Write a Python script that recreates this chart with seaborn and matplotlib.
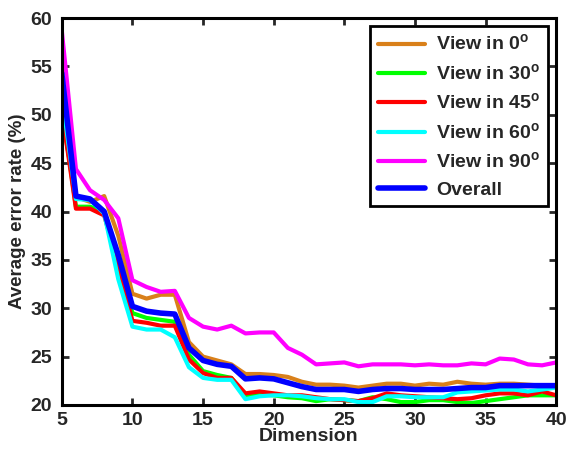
import pandas as pd
import seaborn as sns
import matplotlib
matplotlib.use("Agg")
import matplotlib.pyplot as plt

# --------------------
# Data
# --------------------
dims = list(range(5, 41))

view0 = [50.0, 41.5, 41.0, 41.6, 37.5, 31.5, 31.0, 31.4, 31.4, 26.5, 25.0, 24.6,
         24.2, 23.2, 23.2, 23.1, 22.9, 22.4, 22.1, 22.1, 22.0, 21.8, 22.0, 22.2,
         22.2, 22.0, 22.2, 22.1, 22.4, 22.2, 22.1, 22.2, 22.2, 22.1, 22.0, 21.9]
view30 = [51.0, 40.5, 40.5, 40.0, 34.5, 29.5, 29.0, 28.8, 28.6, 25.2, 23.5, 23.1,
          22.8, 21.0, 21.1, 21.0, 20.8, 20.7, 20.4, 20.6, 20.5, 20.4, 20.8, 20.6,
          20.3, 20.3, 20.5, 20.5, 20.3, 20.2, 20.4, 20.6, 20.8, 21.0, 21.0, 21.0]
view45 = [50.5, 40.3, 40.3, 39.6, 34.5, 28.7, 28.5, 28.2, 28.2, 24.7, 23.3, 22.8,
          22.8, 21.2, 21.4, 21.2, 21.0, 21.0, 20.8, 20.6, 20.5, 20.4, 20.7, 21.2,
          21.0, 20.9, 20.8, 20.7, 20.6, 20.7, 21.0, 21.2, 21.2, 21.0, 21.4, 21.0]
view60 = [52.0, 41.3, 41.2, 39.8, 33.0, 28.1, 27.8, 27.8, 27.0, 23.9, 22.8, 22.6,
          22.6, 20.6, 20.9, 21.0, 21.0, 20.9, 20.7, 20.6, 20.6, 20.3, 20.3, 20.9,
          20.9, 20.8, 20.8, 20.8, 21.3, 21.4, 21.5, 21.6, 21.6, 21.4, 21.6, 21.8]
view90 = [58.7, 44.4, 42.2, 41.2, 39.3, 32.9, 32.2, 31.7, 31.8, 29.0, 28.1, 27.8,
          28.2, 27.4, 27.5, 27.5, 25.9, 25.2, 24.2, 24.3, 24.4, 24.0, 24.2, 24.2,
          24.2, 24.1, 24.2, 24.1, 24.1, 24.3, 24.2, 24.8, 24.7, 24.2, 24.1, 24.4]
overall = [54.3, 41.6, 41.3, 40.0, 35.5, 30.2, 29.7, 29.5, 29.4, 25.9, 24.6, 24.2,
           24.0, 22.7, 22.8, 22.7, 22.3, 21.9, 21.6, 21.6, 21.6, 21.4, 21.6, 21.7,
           21.7, 21.6, 21.6, 21.6, 21.7, 21.8, 21.8, 22.0, 22.0, 22.0, 22.0, 22.0]

labels = [r"View in 0$^{\mathbf{o}}$", r"View in 30$^{\mathbf{o}}$",
          r"View in 45$^{\mathbf{o}}$", r"View in 60$^{\mathbf{o}}$",
          r"View in 90$^{\mathbf{o}}$", "Overall"]
colors = ["#D9801A", "#00FF00", "#FF0000", "#00FFFF", "#FF00FF", "#0000FF"]
widths = [3.0, 3.0, 3.0, 3.0, 3.0, 4.0]

series = [view0, view30, view45, view60, view90, overall]
df = pd.concat(
    [pd.DataFrame({"dim": dims, "err": s, "view": lab}) for s, lab in zip(series, labels)],
    ignore_index=True,
)

# --------------------
# Style
# --------------------
sns.set_style("ticks")
plt.rcParams["font.family"] = ["Liberation Sans", "DejaVu Sans"]
plt.rcParams["font.weight"] = "bold"
plt.rcParams["mathtext.fontset"] = "custom"
plt.rcParams["mathtext.bf"] = "Liberation Sans:bold"
plt.rcParams["mathtext.rm"] = "Liberation Sans:bold"

fig = plt.figure(figsize=(5.67, 4.53), dpi=100)
ax = fig.add_axes([0.109, 0.106, 0.872, 0.854])

for lab, col, lw in zip(labels, colors, widths):
    sns.lineplot(data=df[df["view"] == lab], x="dim", y="err", color=col,
                 linewidth=lw, label=lab, ax=ax)

ax.set_xlim(5, 40)
ax.set_ylim(20, 60)
ax.set_xticks(range(5, 41, 5))
ax.set_yticks(range(20, 61, 5))
ax.set_xlabel("Dimension", fontsize=14, fontweight="bold", labelpad=-1)
ax.set_ylabel("Average error rate (%)", fontsize=13.5, fontweight="bold", labelpad=3)
ax.tick_params(direction="in", length=5, width=2, labelsize=14,
               top=True, right=True)
ax.tick_params(axis="y", pad=7)
ax.tick_params(axis="x", pad=5)
for lbl in ax.get_xticklabels() + ax.get_yticklabels():
    lbl.set_fontweight("bold")
for sp in ax.spines.values():
    sp.set_visible(True)
    sp.set_linewidth(2.2)
    sp.set_color("black")

leg = ax.legend(loc="upper right", fontsize=14, frameon=True, fancybox=False,
                edgecolor="black", framealpha=1, handlelength=2.4,
                labelspacing=0.45, borderaxespad=0.4, borderpad=0.4,
                handletextpad=0.6)
leg.get_frame().set_linewidth(2.0)
for t in leg.get_texts():
    t.set_fontweight("bold")

fig.savefig("out.png", dpi=100)
